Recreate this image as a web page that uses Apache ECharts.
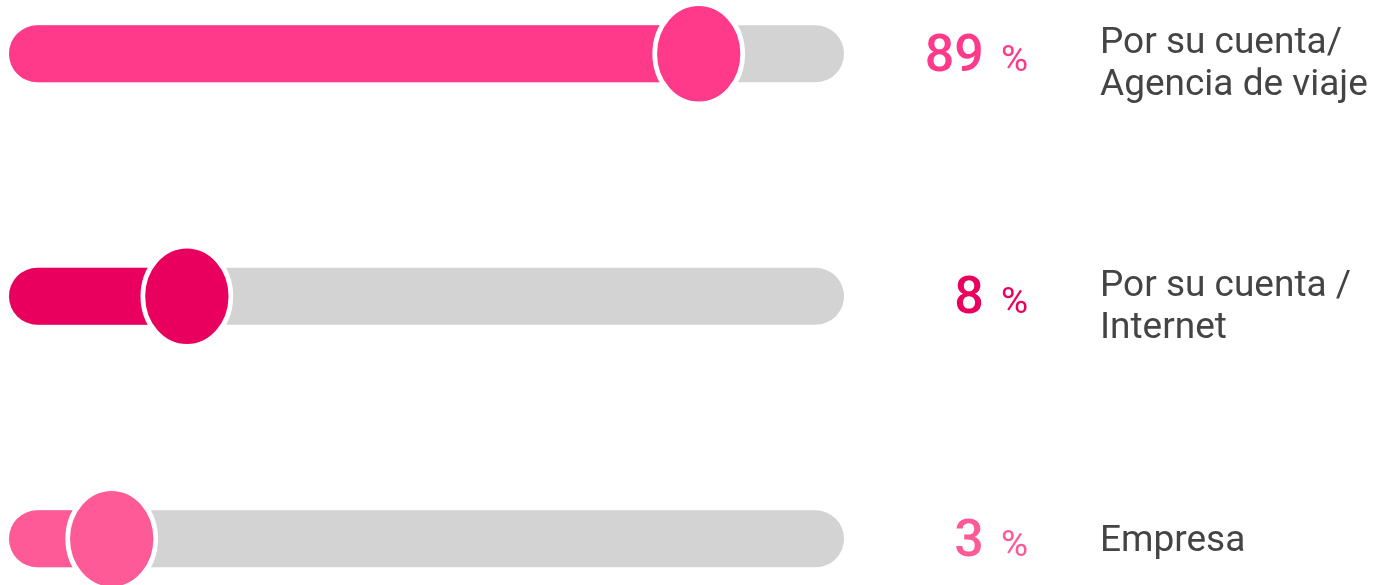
<!DOCTYPE html>
<html>
<head>
<meta charset="utf-8">
<title>Slider chart</title>
<script src="https://cdn.jsdelivr.net/npm/echarts@6/dist/echarts.min.js"></script>
<style>
  html, body { margin: 0; padding: 0; background: #fff; }
  #chart { width: 1373px; height: 585px; }
</style>
</head>
<body>
<div id="chart"></div>
<script>
// categories, top to bottom
const categories = ['Por su cuenta/\nAgencia de viaje', 'Por su cuenta /\nInternet', 'Empresa'];
// percentages shown on the right
const percentages = [89, 8, 3];
// where the knob sits on the 0-100 track (read off the picture, not equal to the %)
const knobPositions = [82.6, 21.3, 12.3];
const trackMax = [100, 100, 100];
const colors = ['#ff3a8b', '#e9005f', '#ff5a98'];

const chart = echarts.init(document.getElementById('chart'));

chart.setOption({
  animation: false,
  grid: {
    left: 9,
    right: 529,
    top: -67.5,
    height: 727.5,
    outerBoundsMode: 'none',
    containLabel: false
  },
  xAxis: {
    type: 'value',
    min: 0,
    max: 100,
    show: false
  },
  yAxis: {
    type: 'category',
    inverse: true,
    data: categories,
    axisLine: { show: false },
    axisTick: { show: false },
    axisLabel: { show: false },
    splitLine: { show: false }
  },
  series: [
    {
      // grey track + percentage
      type: 'bar',
      barWidth: 57,
      barGap: '-100%',
      silent: true,
      itemStyle: { color: '#d3d3d3', borderRadius: 28.5 },
      label: {
        show: true,
        position: 'right',
        distance: 184,
        align: 'right',
        fontFamily: 'Roboto',
        formatter: p => '{n|' + percentages[p.dataIndex] + '}{p|%}',
        rich: {
          n: { fontSize: 52, fontFamily: 'Roboto', fontWeight: 500, verticalAlign: 'bottom', lineHeight: 60 },
          p: { fontSize: 37, fontFamily: 'Roboto', fontWeight: 400, verticalAlign: 'bottom', lineHeight: 52, padding: [0, 0, 4, 17] }
        }
      },
      data: trackMax.map((v, i) => ({ value: v, label: { color: colors[i] } }))
    },
    {
      // invisible copy of the track, only carries the category name
      type: 'bar',
      barWidth: 57,
      barGap: '-100%',
      silent: true,
      z: 0,
      itemStyle: { color: 'rgba(0,0,0,0)' },
      label: {
        show: true,
        position: 'right',
        distance: 256,
        align: 'left',
        fontFamily: 'Roboto',
        fontSize: 37,
        lineHeight: 42,
        color: '#444444',
        formatter: p => categories[p.dataIndex]
      },
      // two-line names sit a bit lower than the track centre in the original
      data: trackMax.map((v, i) => ({
        value: v,
        label: { offset: categories[i].indexOf('\n') >= 0 ? [0, 11] : [0, 3] }
      }))
    },
    {
      // coloured fill
      type: 'bar',
      barWidth: 57,
      barGap: '-100%',
      silent: true,
      itemStyle: {
        borderRadius: 28.5,
        color: p => colors[p.dataIndex]
      },
      data: knobPositions
    },
    {
      // knob
      type: 'scatter',
      silent: true,
      z: 5,
      symbol: 'path://M0,50A50,50,0,1,1,100,50A50,50,0,1,1,0,50Z',
      symbolSize: [88, 101],
      itemStyle: {
        color: p => colors[p.dataIndex],
        borderColor: '#ffffff',
        borderWidth: 5,
        opacity: 1
      },
      data: knobPositions.map((v, i) => [v, i])
    }
  ]
});
</script>
</body>
</html>
